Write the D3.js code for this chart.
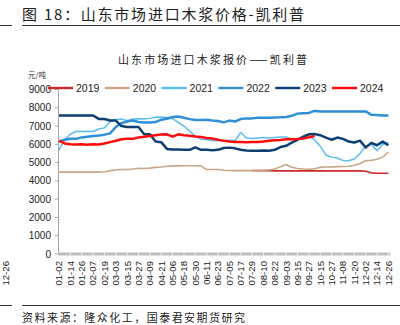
<!DOCTYPE html>
<html>
<head>
<meta charset="utf-8">
<script src="https://cdn.jsdelivr.net/npm/d3@7"></script>
<style>
  html, body { margin: 0; padding: 0; background: #fff; }
  svg { display: block; }
</style>
</head>
<body>
<svg id="chart" width="400" height="325"></svg>
<script>
// ---- data (half-step samples between labelled dates) ----
const tickLabels = ["01-02","01-14","01-26","02-07","02-19","03-03","03-15","03-27","04-09","04-21",
  "05-06","05-18","05-30","06-11","06-23","07-05","07-17","07-29","08-10","08-22",
  "09-03","09-15","09-27","10-15","10-27","11-08","11-20","12-02","12-14","12-26"];
const seriesNames = ["2019","2020","2021","2022","2023","2024"];
const yTicks = [0,1000,2000,3000,4000,5000,6000,7000,8000,9000];

const v2019 = [null,null,null,null,null,null,null,null,null,null,
  null,null,null,null,null,null,null,null,null,null,
  null,null,null,null,null,null,null,null,null,null,
  null,null,null,null,4560,4560,4560,4560,4550,4550,
  4550,4550,4550,4550,4550,4550,4550,4550,4550,4550,
  4550,4550,4550,4550,4530,4440,4420,4420,4420];
const v2020 = [4480,4480,4480,4480,4480,4480,4480,4480,4500,4560,
  4600,4620,4630,4650,4690,4680,4700,4740,4760,4800,
  4820,4820,4830,4830,4830,4820,4620,4620,4620,4580,
  4570,4560,4560,4560,4560,4560,4580,4600,4650,4780,
  4900,4750,4680,4650,4640,4660,4740,4760,4760,4780,
  4790,4800,4840,4950,5100,5130,5180,5300,5580];
const v2021 = [5680,6250,6550,6700,6700,6720,6700,6840,6900,7250,
  7350,7380,7300,7380,7400,7380,7420,7480,7500,7470,
  7400,7200,7000,6720,6450,6280,6250,6200,6220,6200,
  6220,6200,6650,6350,6320,6350,6380,6350,6380,6400,
  6400,6300,6280,6370,6460,6250,5900,5420,5300,5250,
  5120,5100,5200,5500,5900,6000,5650,6000,6100];
const v2022 = [6150,6250,6300,6300,6380,6420,6450,6480,6530,6600,
  6950,7150,7250,7300,7220,7200,7200,7220,7350,7400,
  7500,7520,7450,7380,7330,7330,7350,7300,7280,7200,
  7300,7250,7380,7420,7420,7460,7460,7460,7470,7480,
  7500,7560,7680,7700,7720,7830,7800,7800,7800,7800,
  7800,7800,7800,7800,7800,7620,7600,7580,7580];
const v2023 = [7580,7580,7580,7580,7580,7580,7580,7390,7390,7300,
  7300,7000,6950,6950,6950,6550,6550,6150,6120,5750,
  5720,5720,5700,5700,5830,5700,5700,5680,5700,5800,
  5820,5780,5700,5660,5650,5650,5660,5650,5700,5850,
  5920,6100,6250,6420,6550,6560,6500,6370,6250,6370,
  6300,6150,6100,6200,5830,6080,5950,6150,5950];
const v2024 = [6200,6050,6000,5990,6000,5980,6000,5990,6050,6120,
  6200,6280,6300,6300,6380,6420,6450,6500,6540,6550,
  6420,6550,6500,6470,6430,6400,6350,6320,6250,6190,
  6150,6130,6130,6120,6130,6130,6150,6190,6220,6240,
  6280,6280,6290,6320,6380,6460,null,null,null,null,
  null,null,null,null,null,null,null,null,null];

const seriesValues = [v2019, v2020, v2021, v2022, v2023, v2024];
const seriesColors = ["#CC2A2A","#C9A687","#5BBCF0","#2E8FD8","#0E3F73","#FF0A0A"];
const seriesWidths = [1.6, 1.6, 1.5, 2.5, 2.5, 2.5];

// ---- drawing ----
const svg = d3.select("#chart");
const nPts = v2022.length;
const x = d3.scaleLinear().domain([0, nPts - 1]).range([59, 388.4]);
const y = d3.scaleLinear().domain([0, 9000]).range([254, 89.5]);

const cjk = "'Noto Sans CJK SC','Noto Sans',sans-serif";
const num = "'Liberation Sans',Arial,sans-serif";

// page title + rules
svg.append("text").attr("x", 22).attr("y", 20)
  .attr("font-family", cjk).attr("font-size", 15).attr("fill", "#222")
  .attr("textLength", 282).attr("lengthAdjust", "spacing")
  .text("图 18：山东市场进口木浆价格-凯利普");
[[0,12],[22,400]].forEach(([a,b]) => {
  svg.append("line").attr("x1", a).attr("x2", b).attr("y1", 25.5).attr("y2", 25.5)
    .attr("stroke", "#333").attr("stroke-width", 1);
  svg.append("line").attr("x1", a).attr("x2", b).attr("y1", 305.5).attr("y2", 305.5)
    .attr("stroke", "#333").attr("stroke-width", 1);
});

// chart title
svg.append("text").attr("x", 118).attr("y", 64)
  .attr("font-family", cjk).attr("font-size", 11).attr("fill", "#222")
  .attr("textLength", 189).attr("lengthAdjust", "spacing")
  .text("山东市场进口木浆报价——凯利普");
svg.append("text").attr("x", 28).attr("y", 78)
  .attr("font-family", cjk).attr("font-size", 7.5).attr("fill", "#333")
  .text("元/吨");

// footer
svg.append("text").attr("x", 22).attr("y", 322)
  .attr("font-family", cjk).attr("font-size", 11).attr("fill", "#222")
  .attr("textLength", 223).attr("lengthAdjust", "spacing")
  .text("资料来源：隆众化工，国泰君安期货研究");

// y axis
const yAxis = svg.append("g");
yAxis.append("line").attr("x1", 58.5).attr("x2", 58.5)
  .attr("y1", y(9000)).attr("y2", y(0)).attr("stroke", "#A6A6A6");
yTicks.forEach(t => {
  yAxis.append("line").attr("x1", 55).attr("x2", 58.5)
    .attr("y1", y(t)).attr("y2", y(t)).attr("stroke", "#A6A6A6");
  yAxis.append("text").attr("x", 51).attr("y", y(t)).attr("dy", "0.35em")
    .attr("text-anchor", "end").attr("font-family", num).attr("font-size", 10)
    .attr("fill", "#222").text(t);
});

// x axis band
const xAxis = svg.append("g");
xAxis.append("rect").attr("x", x(0) - 1).attr("y", 252.5)
  .attr("width", x(nPts - 1) - x(0) + 3).attr("height", 3).attr("fill", "#BDBDBD");
tickLabels.forEach((lab, k) => {
  const px = x(k * 2);
  if (k > 0) {
    xAxis.append("line").attr("x1", px).attr("x2", px).attr("y1", 252.5).attr("y2", 255.5)
      .attr("stroke", "#fff").attr("stroke-width", 0.8);
  }
  xAxis.append("text")
    .attr("transform", `translate(${px},261) rotate(-90)`)
    .attr("dy", "0.35em").attr("text-anchor", "end")
    .attr("font-family", num).attr("font-size", 9.6).attr("fill", "#222")
    .text(lab);
});
// neighbour label at the left edge
svg.append("text").attr("transform", "translate(5.5,261) rotate(-90)")
  .attr("dy", "0.35em").attr("text-anchor", "end")
  .attr("font-family", num).attr("font-size", 9.6).attr("fill", "#222").text("12-26");

// lines
const line = d3.line()
  .defined(d => d != null)
  .x((d, i) => x(i))
  .y(d => y(d));
seriesValues.forEach((vals, s) => {
  svg.append("path")
    .attr("d", line(vals))
    .attr("fill", "none")
    .attr("stroke", seriesColors[s])
    .attr("stroke-width", seriesWidths[s])
    .attr("stroke-linejoin", "round");
});

// legend
const legend = svg.append("g");
seriesNames.forEach((name, s) => {
  const lx = 48 + s * 56.8;
  legend.append("line").attr("x1", lx).attr("x2", lx + 25)
    .attr("y1", 88).attr("y2", 88)
    .attr("stroke", seriesColors[s]).attr("stroke-width", 2.4);
  legend.append("text").attr("x", lx + 28).attr("y", 88).attr("dy", "0.35em")
    .attr("font-family", num).attr("font-size", 10.5).attr("fill", "#222")
    .text(name);
});
</script>
</body>
</html>
